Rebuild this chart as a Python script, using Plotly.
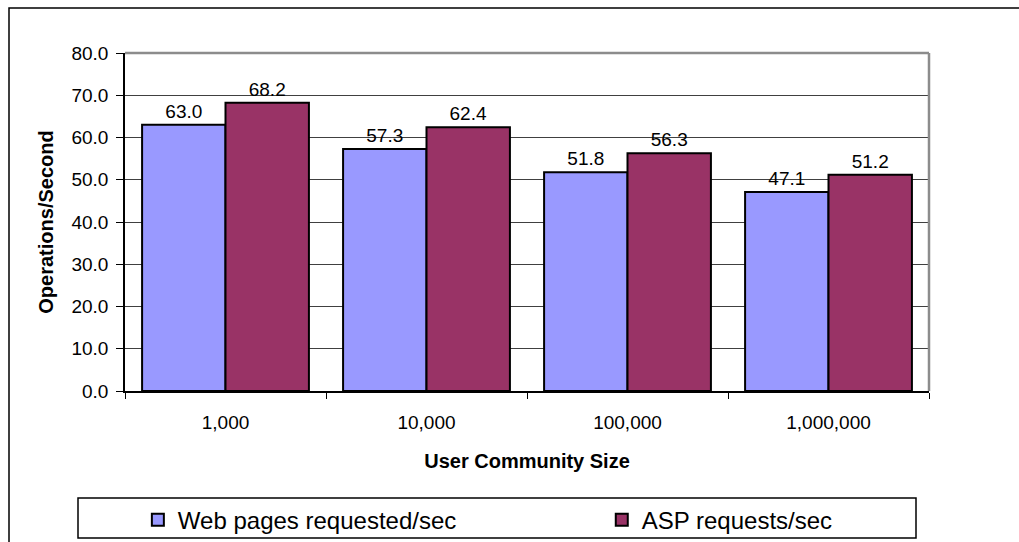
import plotly.graph_objects as go

categories = ["1,000", "10,000", "100,000", "1,000,000"]
web_pages = [63.0, 57.3, 51.8, 47.1]
asp_requests = [68.2, 62.4, 56.3, 51.2]
y_ticks = [0, 10, 20, 30, 40, 50, 60, 70, 80]

FONT = "Arial, 'Liberation Sans', sans-serif"

fig = go.Figure()
fig.add_trace(go.Bar(
    name="Web pages requested/sec", x=categories, y=web_pages,
    marker=dict(color="#9999FF", line=dict(color="black", width=2)),
    text=[f"{v:.1f}" for v in web_pages], textposition="outside",
    textfont=dict(size=19, color="black", family=FONT), cliponaxis=False,
    legend="legend",
))
fig.add_trace(go.Bar(
    name="ASP requests/sec", x=categories, y=asp_requests,
    marker=dict(color="#993366", line=dict(color="black", width=2)),
    text=[f"{v:.1f}" for v in asp_requests], textposition="outside",
    textfont=dict(size=19, color="black", family=FONT), cliponaxis=False,
    legend="legend2",
))

legend_common = dict(
    orientation="h", xanchor="left", y=-0.382, yanchor="middle",
    font=dict(size=24, family=FONT, color="black"),
    bgcolor="rgba(0,0,0,0)", borderwidth=0,
)

fig.update_layout(
    width=1019, height=542,
    margin=dict(l=125, r=90, t=53, b=151, autoexpand=False),
    paper_bgcolor="white", plot_bgcolor="white",
    font=dict(family=FONT, color="black", size=19),
    barmode="group", bargap=0.17, bargroupgap=0,
    showlegend=True,
    legend=dict(x=0.016, **legend_common),
    legend2=dict(x=0.593, **legend_common),
    xaxis=dict(
        showline=True, linecolor="black", linewidth=1.5,
        ticks="outside", tickson="boundaries", ticklen=6, tickcolor="black",
        ticklabelstandoff=13,
        tickfont=dict(size=19),
        title=dict(text="<b>User Community Size</b>", font=dict(size=20), standoff=22),
        showgrid=False, automargin=False,
    ),
    yaxis=dict(
        range=[0, 80], tickvals=y_ticks, tickformat=".1f",
        showline=True, linecolor="black", linewidth=1.5,
        ticks="outside", ticklen=7, tickcolor="black",
        ticklabelstandoff=4,
        tickfont=dict(size=19),
        showgrid=True, gridcolor="#404040", gridwidth=1,
        zeroline=False,
        title=dict(text="<b>Operations/Second</b>", font=dict(size=20), standoff=12),
        automargin=False,
    ),
    shapes=[
        # plot-area top & right border (gray)
        dict(type="line", xref="paper", yref="paper", x0=0, x1=1, y0=1, y1=1,
             line=dict(color="#8c8c8c", width=2.5)),
        dict(type="line", xref="paper", yref="paper", x0=1, x1=1, y0=0, y1=1,
             line=dict(color="#8c8c8c", width=2.5)),
        # legend box
        dict(type="rect", xref="paper", yref="paper",
             x0=(78 - 125) / 804, x1=(916 - 125) / 804,
             y0=(391 - 538) / 338, y1=(391 - 498) / 338,
             line=dict(color="black", width=1.5), fillcolor="rgba(0,0,0,0)", layer="below"),
        # outer chart frame (extends past the right and bottom edges)
        dict(type="rect", xref="paper", yref="paper",
             x0=(9 - 125) / 804, x1=1.2, y0=-0.6, y1=(391 - 8) / 338,
             line=dict(color="black", width=1.5), fillcolor="rgba(0,0,0,0)", layer="below"),
    ],
)

fig.write_html(
    "out.html",
    config={"displayModeBar": False},
    post_script="document.body.style.margin='0px';document.body.style.overflow='hidden';",
)
